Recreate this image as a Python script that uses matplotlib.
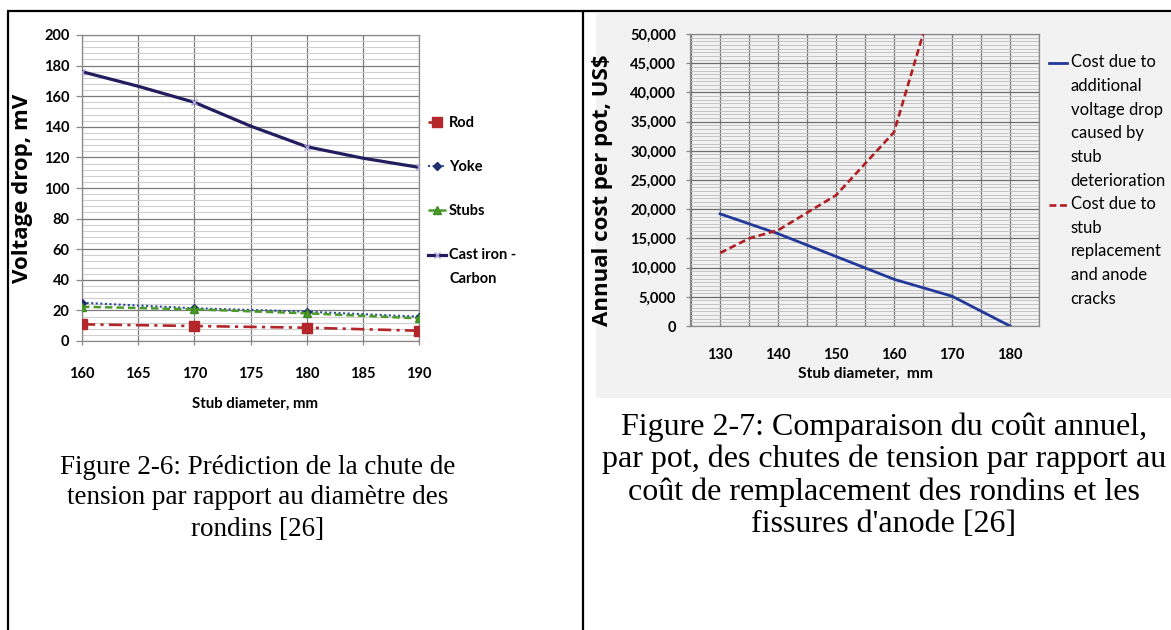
import matplotlib
matplotlib.use("Agg")
import matplotlib.pyplot as plt
from matplotlib.lines import Line2D
from matplotlib.patches import Rectangle
from matplotlib.ticker import MultipleLocator, StrMethodFormatter
from matplotlib.legend_handler import HandlerLine2D

# ---------------- data: left chart (Figure 2-6) ----------------
diam_left = [160, 170, 180, 190]
rod = [10.9, 9.8, 8.7, 6.7]
yoke = [25.0, 21.4, 19.2, 15.9]
stubs = [22.4, 20.7, 18.1, 14.8]
cast_iron_x = [160, 165, 170, 175, 180, 185, 190]
cast_iron = [176, 166.5, 156, 140.5, 127, 119.5, 113.5]
left_labels = ["Rod", "Yoke", "Stubs", "Cast iron -\nCarbon"]

# ---------------- data: right chart (Figure 2-7) ----------------
diam_blue = [130, 140, 150, 160, 170, 180]
cost_voltage = [19200, 15800, 11900, 8000, 5100, 0]
diam_red = [130, 135, 140, 150, 160, 165]
cost_replace = [12500, 15000, 16400, 22400, 33200, 50000]
right_labels = ["Cost due to\nadditional\nvoltage drop\ncaused by\nstub\ndeterioration",
                "Cost due to\nstub\nreplacement\nand anode\ncracks"]

caption_left = ["Figure 2-6: Prédiction de la chute de",
                "tension par rapport au diamètre des",
                "rondins [26]"]
caption_right = ["Figure 2-7: Comparaison du coût annuel,",
                 "par pot, des chutes de tension par rapport au",
                 "coût de remplacement des rondins et les",
                 "fissures d'anode [26]"]

W, H = 1171, 630
fig = plt.figure(figsize=(W / 100, H / 100), dpi=100)
fig.patch.set_facecolor("white")


def fx(px):
    return px / W


def fy(py):
    return 1 - py / H


SANS = "Lato"
YLAB = "Open Sans"
SERIF = "Liberation Serif"


class OffsetHandler(HandlerLine2D):
    def __init__(self, dy_pt, **kw):
        super().__init__(**kw)
        self.dy = dy_pt

    def create_artists(self, *args, **kwargs):
        arts = super().create_artists(*args, **kwargs)
        for a in arts:
            a.set_ydata([y + self.dy for y in a.get_ydata()])
        return arts


# right panel grey background
fig.patches.append(Rectangle((fx(596), fy(398)), fx(1171) - fx(596), fy(13) - fy(398),
                             transform=fig.transFigure, facecolor="#F2F2F2",
                             edgecolor="none", zorder=-10))
# table borders
for (x0, y0, x1, y1) in [(7, 11, 1171, 11), (8, 11, 8, 630), (583, 11, 583, 630)]:
    fig.add_artist(Line2D([fx(x0), fx(x1)], [fy(y0), fy(y1)], transform=fig.transFigure,
                          color="black", lw=1.6, solid_capstyle="butt", zorder=5))

# ---------------- left chart ----------------
axL = fig.add_axes([fx(82), fy(341), fx(419) - fx(82), fy(35) - fy(341)])
axL.set_facecolor("white")
lr, = axL.plot(diam_left, rod, color="#B3262A", lw=1.9, ls=(0, (5, 2, 1.2, 2)),
               marker="s", ms=6.5, mec="#B3262A", mfc="#B3262A", zorder=3)
ly, = axL.plot(diam_left, yoke, color="#2A4A9A", lw=1.5, ls=(0, (1, 1.2)),
               marker="D", ms=4, mec="#1E2E6E", mfc="#1E2E6E", zorder=3)
ls_, = axL.plot(diam_left, stubs, color="#4C9A2A", lw=1.8, ls=(0, (3, 1.6)),
                marker="^", ms=6, mec="#3E8A22", mfc="#4C9A2A", zorder=3)
lc, = axL.plot(cast_iron_x, cast_iron, color="#221D5E", lw=2.3, marker="x", ms=4,
               mec="#A99CD6", markevery=2, zorder=3)
axL.set_xlim(160, 190)
axL.set_ylim(0, 200)
axL.xaxis.set_major_locator(MultipleLocator(5))
axL.yaxis.set_major_locator(MultipleLocator(20))
axL.yaxis.set_minor_locator(MultipleLocator(4))
axL.grid(which="major", color="#7c7c7c", lw=0.9)
axL.grid(which="minor", axis="y", color="#cfcfcf", lw=0.8)
axL.set_axisbelow(True)
for s in axL.spines.values():
    s.set_color("#8a8a8a")
    s.set_linewidth(0.9)
axL.tick_params(axis="y", which="major", length=4, width=0.9, color="#8a8a8a", pad=5)
axL.tick_params(axis="y", which="minor", length=0)
axL.tick_params(axis="x", length=3, width=0.9, color="#8a8a8a", pad=15.5)
for lab in axL.get_xticklabels() + axL.get_yticklabels():
    lab.set_fontfamily(SANS)
    lab.set_fontweight("bold")
    lab.set_fontsize(10.5)
axL.set_ylabel("Voltage drop, mV", family=YLAB, fontweight="bold", fontsize=16)
axL.yaxis.set_label_coords((33 - 82) / 337, 0.5)
axL.set_xlabel("Stub diameter, mm", family=SANS, fontweight="bold", fontsize=10.8)
axL.xaxis.set_label_coords((255 - 82) / 337, (341 - 397) / 306)

legL = axL.legend([lr, ly, ls_, lc], left_labels, loc="upper left",
                  bbox_to_anchor=(fx(428), fy(116)), bbox_transform=fig.transFigure,
                  frameon=False, prop={"family": SANS, "weight": "bold", "size": 10.5},
                  handlelength=1.2, handletextpad=0.25, labelspacing=2.05,
                  borderaxespad=0, borderpad=0, numpoints=1,
                  handler_map={lc: OffsetHandler(8.6)})
for t in legL.get_texts():
    t.set_linespacing(1.92)

# ---------------- right chart ----------------
axR = fig.add_axes([fx(690), fy(326), fx(1039) - fx(690), fy(34) - fy(326)])
axR.set_facecolor("#F2F2F2")
lb, = axR.plot(diam_blue, cost_voltage, color="#22389A", lw=2.0, zorder=3)
lrd, = axR.plot(diam_red, cost_replace, color="#B01E24", lw=1.9, ls=(0, (2.6, 1.4)), zorder=3)
axR.set_xlim(124.8, 185)
axR.set_ylim(0, 50000)
axR.xaxis.set_major_locator(MultipleLocator(10))
axR.xaxis.set_minor_locator(MultipleLocator(5))
axR.yaxis.set_major_locator(MultipleLocator(5000))
axR.yaxis.set_minor_locator(MultipleLocator(625))
axR.yaxis.set_major_formatter(StrMethodFormatter("{x:,.0f}"))
axR.grid(which="minor", axis="y", color="#c4c4c4", lw=0.7)
axR.grid(which="major", axis="y", color="#6f6f6f", lw=0.9)
axR.grid(which="both", axis="x", color="#7a7a7a", lw=0.9)
axR.set_axisbelow(True)
for s in axR.spines.values():
    s.set_color("#8a8a8a")
    s.set_linewidth(0.9)
axR.tick_params(axis="y", which="major", length=3, width=0.9, color="#8a8a8a", pad=7)
axR.tick_params(axis="y", which="minor", length=0)
axR.tick_params(axis="x", which="both", length=0, pad=16)
for lab in axR.get_xticklabels() + axR.get_yticklabels():
    lab.set_fontfamily(SANS)
    lab.set_fontweight("bold")
    lab.set_fontsize(10.5)
axR.set_ylabel("Annual cost per pot, US$", family=YLAB, fontweight="bold", fontsize=16)
axR.yaxis.set_label_coords((613 - 690) / 349, (326 - 190) / 292)
axR.set_xlabel("Stub diameter,  mm", family=SANS, fontweight="bold", fontsize=11.2)
axR.xaxis.set_label_coords((865 - 690) / 349, (326 - 367) / 292)

legR = axR.legend([lb, lrd], right_labels, loc="upper left",
                  bbox_to_anchor=(fx(1049), fy(54)), bbox_transform=fig.transFigure,
                  frameon=False, prop={"family": SANS, "size": 12},
                  handlelength=1.1, handletextpad=0.2, labelspacing=0.41,
                  borderaxespad=0, borderpad=0,
                  handler_map={lb: OffsetHandler(2.5 * 23.5 * 0.72),
                               lrd: OffsetHandler(2.0 * 23.5 * 0.72)})
for t in legR.get_texts():
    t.set_linespacing(1.6)

# ---------------- captions ----------------
for txt, yy in zip(caption_left, [468, 498, 529]):
    fig.text(fx(258), fy(yy), txt, ha="center", va="center", family=SERIF, fontsize=19.5)
for txt, yy in zip(caption_right, [427, 459, 492, 524]):
    fig.text(fx(884), fy(yy), txt, ha="center", va="center", family=SERIF, fontsize=23)

fig.savefig("out.png", dpi=100)
